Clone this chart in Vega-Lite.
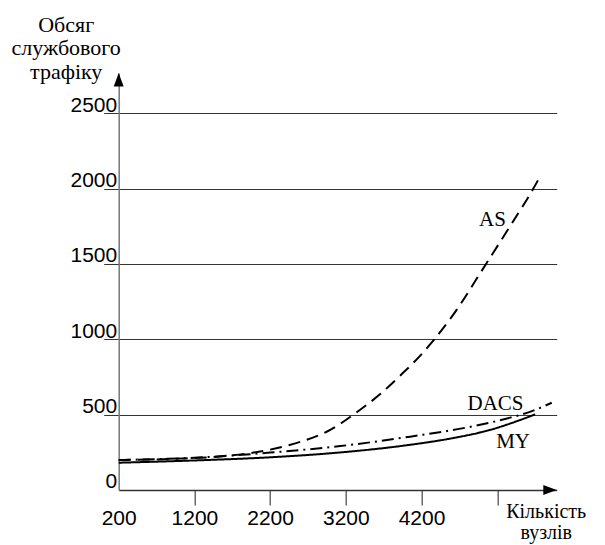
{
  "$schema": "https://vega.github.io/schema/vega-lite/v6.json",
  "autosize": {"type": "none"},
  "padding": {"left": 118.7, "top": 73, "right": 48, "bottom": 55},
  "width": 438,
  "height": 417,
  "background": "white",
  "config": {"view": {"stroke": null}},
  "layer": [
    {
      "data": {"values": [
        {"series": "MY", "n": 200, "v": 181},
        {"series": "MY", "n": 1200, "v": 196},
        {"series": "MY", "n": 2200, "v": 217},
        {"series": "MY", "n": 3100, "v": 248},
        {"series": "MY", "n": 4050, "v": 300},
        {"series": "MY", "n": 4600, "v": 343},
        {"series": "MY", "n": 5100, "v": 398},
        {"series": "MY", "n": 5500, "v": 464},
        {"series": "MY", "n": 5700, "v": 502},
        {"series": "DACS", "n": 200, "v": 199},
        {"series": "DACS", "n": 1200, "v": 214},
        {"series": "DACS", "n": 2200, "v": 248},
        {"series": "DACS", "n": 3100, "v": 290},
        {"series": "DACS", "n": 4050, "v": 354},
        {"series": "DACS", "n": 4850, "v": 420},
        {"series": "DACS", "n": 5370, "v": 480},
        {"series": "DACS", "n": 5640, "v": 520},
        {"series": "DACS", "n": 5920, "v": 579},
        {"series": "AS", "n": 200, "v": 199},
        {"series": "AS", "n": 1200, "v": 212},
        {"series": "AS", "n": 1700, "v": 230},
        {"series": "AS", "n": 2200, "v": 268},
        {"series": "AS", "n": 2600, "v": 320},
        {"series": "AS", "n": 3000, "v": 400},
        {"series": "AS", "n": 3300, "v": 500},
        {"series": "AS", "n": 3650, "v": 635},
        {"series": "AS", "n": 3920, "v": 760},
        {"series": "AS", "n": 4180, "v": 890},
        {"series": "AS", "n": 4369, "v": 1000},
        {"series": "AS", "n": 4600, "v": 1150},
        {"series": "AS", "n": 5052, "v": 1500},
        {"series": "AS", "n": 5400, "v": 1775},
        {"series": "AS", "n": 5677, "v": 2000},
        {"series": "AS", "n": 5775, "v": 2090}
      ]},
      "mark": {"type": "line", "interpolate": "monotone", "color": "black", "strokeWidth": 2},
      "encoding": {
        "x": {
          "field": "n", "type": "quantitative",
          "scale": {"domain": [200, 5985], "nice": false, "zero": false},
          "axis": {
            "values": [200, 1200, 2200, 3200, 4200, 5200],
            "format": "d",
            "labelExpr": "datum.value == 5200 ? '' : datum.label",
            "labelFlush": false,
            "labelOverlap": false,
            "grid": false,
            "tickSize": 15,
            "tickWidth": 1.2,
            "tickColor": {"condition": {"test": "datum.value == 200", "value": "transparent"}, "value": "#444"},
            "domainColor": "#333",
            "domainWidth": 1.5,
            "labelFont": "Liberation Sans",
            "labelFontSize": 21,
            "labelColor": "black",
            "labelPadding": 3,
            "title": ["Кількість", "вузлів"],
            "titleFont": "Liberation Serif",
            "titleFontSize": 20,
            "titleFontWeight": "normal",
            "titleColor": "black",
            "titleAlign": "center",
            "titleBaseline": "alphabetic",
            "titleLineHeight": 21,
            "titleX": 427,
            "titleY": 27.5
          }
        },
        "y": {
          "field": "v", "type": "quantitative",
          "scale": {"domain": [0, 2767], "nice": false},
          "axis": {
            "values": [0, 500, 1000, 1500, 2000, 2500],
            "format": "d",
            "grid": true,
            "gridColor": {"condition": {"test": "datum.value == 0", "value": "transparent"}, "value": "#333"},
            "gridWidth": 1,
            "gridOpacity": 1,
            "tickSize": 15,
            "tickColor": {"condition": {"test": "datum.value == 0", "value": "transparent"}, "value": "#333"},
            "labelPadding": -13,
            "labelAlign": "right",
            "labelBaseline": "alphabetic",
            "labelOffset": -2,
            "labelFont": "Liberation Sans",
            "labelFontSize": 21,
            "labelColor": "black",
            "domainColor": "#777",
            "domainWidth": 1.5,
            "title": ["Обсяг", "службового", "трафіку"],
            "titleFont": "Liberation Serif",
            "titleFontSize": 22,
            "titleFontWeight": "normal",
            "titleColor": "black",
            "titleAngle": 0,
            "titleAlign": "center",
            "titleBaseline": "alphabetic",
            "titleLineHeight": 23.5,
            "titleX": -53,
            "titleY": -41.5
          }
        },
        "strokeDash": {
          "field": "series", "type": "nominal",
          "scale": {"domain": ["AS", "DACS", "MY"], "range": [[12, 7], [12, 5, 2, 5], [1, 0]]},
          "legend": null
        },
        "detail": {"field": "series"}
      }
    },
    {
      "data": {"values": [
        {"label": "AS", "n": 5137, "v": 1752},
        {"label": "DACS", "n": 5177, "v": 531},
        {"label": "MY", "n": 5409, "v": 279}
      ]},
      "mark": {"type": "text", "font": "Liberation Serif", "fontSize": 21, "color": "black", "align": "center", "baseline": "alphabetic"},
      "encoding": {
        "x": {"field": "n", "type": "quantitative"},
        "y": {"field": "v", "type": "quantitative"},
        "text": {"field": "label"}
      }
    },
    {
      "data": {"values": [
        {"dir": "right", "n": 5985, "v": 0},
        {"dir": "up", "n": 200, "v": 2767}
      ]},
      "mark": {"type": "point", "filled": true, "color": "black", "opacity": 1, "size": 718},
      "encoding": {
        "x": {"field": "n", "type": "quantitative"},
        "y": {"field": "v", "type": "quantitative"},
        "shape": {
          "field": "dir", "type": "nominal",
          "scale": {"domain": ["right", "up"], "range": ["M0,0L-1,-0.37L-1,0.37Z", "M0,0L-0.37,1L0.37,1Z"]},
          "legend": null
        }
      }
    }
  ]
}
